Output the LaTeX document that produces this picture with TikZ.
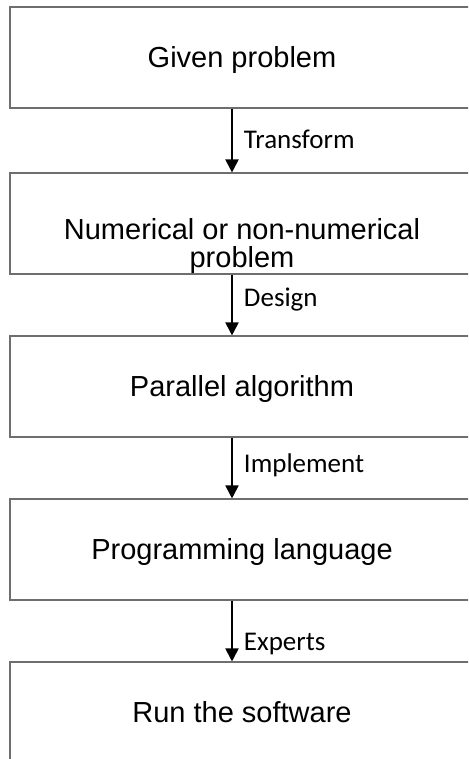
\documentclass[tikz,border=0pt]{standalone}
\usepackage{fontspec}
\setmainfont{Liberation Sans}
\newfontfamily\labfont{Carlito}
\usetikzlibrary{arrows.meta}

\begin{document}
\begin{tikzpicture}[x=1pt,y=1pt,yscale=-1,xscale=1,
  stepbox/.style={draw={rgb, 255:red, 110; green, 110; blue, 110 }, line width=1.1pt,
    minimum width=464pt, minimum height=101pt, inner sep=0pt,
    font=\fontsize{29}{29}\selectfont, text height=20.5pt, text depth=0pt},
  boxtext/.style={inner sep=0pt, font=\fontsize{29}{28}\selectfont},
  flow/.style={line width=1.9pt, -{Triangle[width=13pt,length=13pt]}},
  lab/.style={font=\labfont\fontsize{27}{27}\selectfont, inner sep=0pt, anchor=base west, xshift=11pt}]
\useasboundingbox (0,0) rectangle (468,759);
\clip (0,0) rectangle (468,759);
\coordinate (ax) at (232,0);

%Shape: Rectangle [given]
\node[stepbox] (given) at (242,57.5) {Given problem};
%Shape: Rectangle [numer]
\node[stepbox] (numer) at (242,223.5) {};
\node[boxtext, align=center] (numertext) at (242,246) {Numerical or non-numerical\\problem};
%Shape: Rectangle [parallel]
\node[stepbox] (parallel) at (242,386.5) {Parallel algorithm};
%Shape: Rectangle [prog]
\node[stepbox] (prog) at (242,549.5) {Programming language};
%Shape: Rectangle [run]
\node[stepbox] (run) at (242,712.5) {Run the software};

%Straight Lines [arrows]
\draw[flow] (given.south -| ax) -- node[lab, pos=0.62] {Transform} (numer.north -| ax);
\draw[flow] (numer.south -| ax) -- node[lab, pos=0.53] {Design} (parallel.north -| ax);
\draw[flow] (parallel.south -| ax) -- node[lab, pos=0.58] {Implement} (prog.north -| ax);
\draw[flow] (prog.south -| ax) -- node[lab, pos=0.82] {Experts} (run.north -| ax);

\end{tikzpicture}
\end{document}
